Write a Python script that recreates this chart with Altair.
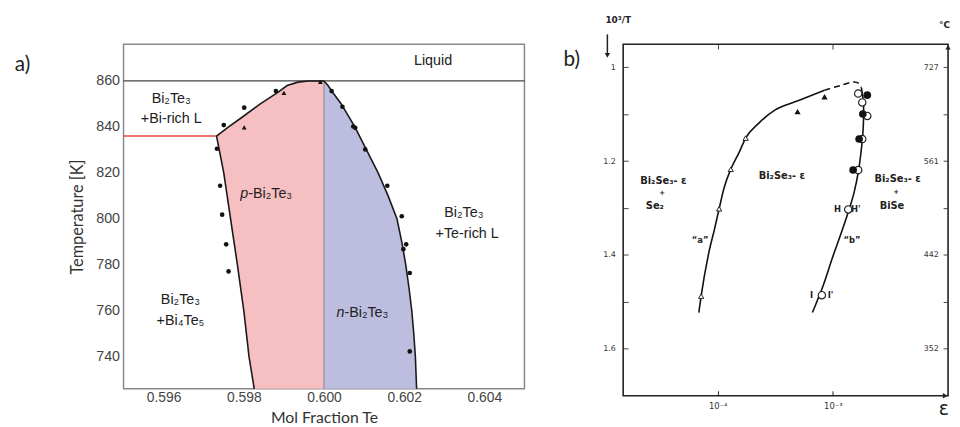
import altair as alt
import pandas as pd

# ---------------- Panel a data ----------------
a_left_T = [726, 740, 760, 780, 800, 820, 836, 840, 844, 850, 855, 858, 859.5, 860]
a_left_x = [0.59826, 0.59813, 0.59800, 0.59784, 0.59767, 0.59750, 0.59732, 0.59762,
            0.59794, 0.59841, 0.59885, 0.59908, 0.59935, 0.59960]
a_right_T = [860, 858, 855, 850, 845, 840, 830, 820, 810, 800, 790, 780, 770, 760, 750, 740, 726]
a_right_x = [0.60000, 0.60010, 0.60022, 0.60043, 0.60060, 0.60077, 0.60106, 0.60135, 0.60160,
             0.60182, 0.60194, 0.60204, 0.60212, 0.60219, 0.60224, 0.60228, 0.60231]
a_stoich = 0.600
a_liquidus_T = 860
a_peritectic_T = 836
a_peritectic_x = 0.59732

a_dot_x = [0.59733, 0.59741, 0.59746, 0.59756, 0.59762, 0.59750, 0.59801, 0.59880,
           0.60019, 0.60046, 0.60073, 0.60078, 0.60103, 0.60158, 0.60194, 0.60205,
           0.60198, 0.60214, 0.60214]
a_dot_T = [830.5, 814.4, 801.8, 788.9, 777.1, 840.8, 848.4, 855.6, 855.6, 848.8, 840.2,
           839.6, 830.2, 814.4, 801.1, 788.9, 786.8, 776.4, 742.3]
a_tri_x = [0.59801, 0.59900, 0.59991]
a_tri_T = [839.8, 854.8, 859.6]

a_xticks = [0.596, 0.598, 0.600, 0.602, 0.604]
a_yticks = [740, 760, 780, 800, 820, 840, 860]

a_lbl_text = ["Liquid", "Bi₂Te₃", "+Bi-rich L", "Bi₂Te₃", "+Bi₄Te₅", "Bi₂Te₃", "+Te-rich L"]
a_lbl_x = [0.60272, 0.59619, 0.59619, 0.59642, 0.59642, 0.60349, 0.60357]
a_lbl_T = [868.6, 852.1, 843.5, 764.7, 755.4, 802.6, 793.4]

a_phase_ital = ["p", "n"]
a_phase_rest = ["-Bi₂Te₃", "-Bi₂Te₃"]
a_phase_x = [0.59811, 0.60051]
a_phase_T = [810.8, 759.0]

# ---------------- Panel b data ----------------
b_a_eps = [6.87e-5, 7.19e-5, 8.48e-5, 9.35e-5, 1.03e-4, 1.14e-4, 1.30e-4, 1.53e-4,
           1.75e-4, 2.28e-4, 3.16e-4, 4.69e-4, 6.10e-4, 8.47e-4]
b_a_T = [1.5227, 1.4878, 1.3895, 1.347, 1.3017, 1.2562, 1.2175, 1.1825, 1.151, 1.119,
         1.091, 1.0737, 1.063, 1.049]
b_dash_eps = [8.47e-4, 1.18e-3, 1.53e-3, 1.69e-3, 1.77e-3]
b_dash_T = [1.049, 1.0386, 1.0316, 1.035, 1.044]
b_b_eps = [1.77e-3, 1.84e-3, 1.85e-3, 1.82e-3, 1.76e-3, 1.67e-3, 1.53e-3, 1.39e-3,
           1.18e-3, 1.0e-3, 8.2e-4, 6.65e-4]
b_b_T = [1.044, 1.0737, 1.1018, 1.144, 1.179, 1.221, 1.2667, 1.3017, 1.354, 1.4035,
         1.4667, 1.5227]

b_otri_eps = [7.19e-5, 1.03e-4, 1.30e-4, 1.75e-4]
b_otri_T = [1.4878, 1.3017, 1.2175, 1.151]
b_ftri_eps = [4.94e-4, 8.47e-4]
b_ftri_T = [1.0947, 1.063]
b_ocirc_eps = [1.66e-3, 1.80e-3, 1.99e-3, 1.80e-3, 1.66e-3, 1.36e-3, 8.03e-4]
b_ocirc_T = [1.056, 1.075, 1.1038, 1.153, 1.219, 1.303, 1.4857]
b_fcirc_eps = [1.99e-3, 1.82e-3, 1.69e-3, 1.50e-3]
b_fcirc_T = [1.0596, 1.0996, 1.153, 1.219]

b_yticks = [1.0, 1.1, 1.2, 1.3, 1.4, 1.5, 1.6]
b_xticks = [1e-4, 1e-3]
b_xtick_labels = ["10⁻⁴", "10⁻³"]
b_c_vals = [1.0, 1.2, 1.4, 1.6]
b_c_labels = ["727", "561", "442", "352"]

b_lbl_text = ["Bi₂Se₃- ε", "Se₂", "Bi₂Se₃- ε", "Bi₂Se₃- ε", "BiSe"]
b_lbl_eps = [3.38e-5, 2.85e-5, 3.61e-4, 3.65e-3, 3.26e-3]
b_lbl_T = [1.2420, 1.2950, 1.2316, 1.2385, 1.2950]

b_plus_eps = [3.30e-5, 3.55e-3]
b_plus_T = [1.2690, 1.2667]

b_small_text = ["H", "H'", "I", "I'", "“a”", "“b”"]
b_small_eps = [1.10e-3, 1.585e-3, 6.52e-4, 9.55e-4, 7.05e-5, 1.47e-3]
b_small_T = [1.303, 1.303, 1.4863, 1.4863, 1.368, 1.368]

# ---------------- Panel a ----------------
XA = alt.Scale(domain=[0.595, 0.605], nice=False, zero=False)
YA = alt.Scale(domain=[726, 876], nice=False, zero=False)

FONT = "Liberation Sans"
TFONT = "Lato"

df_left = pd.DataFrame({"T": a_left_T, "x": a_left_x, "xc": a_stoich})
df_right = pd.DataFrame({"T": a_right_T, "x": a_right_x, "xc": a_stoich}).sort_values("T")

pink = alt.Chart(df_left).mark_area(orient="horizontal", color="#F6BFC2", opacity=1).encode(
    y=alt.Y("T:Q", scale=YA, axis=None),
    x=alt.X("x:Q", scale=XA, axis=None),
    x2=alt.X2("xc:Q"),
)
blue = alt.Chart(df_right).mark_area(orient="horizontal", color="#BDBDDF", opacity=1).encode(
    y=alt.Y("T:Q", scale=YA, axis=None),
    x=alt.X("xc:Q", scale=XA, axis=None),
    x2=alt.X2("x:Q"),
)

df_vline = pd.DataFrame({"x": [a_stoich], "T1": [min(a_left_T)], "T2": [a_liquidus_T]})
vline = alt.Chart(df_vline).mark_rule(color="#8E8E9E", strokeWidth=1.2).encode(
    x=alt.X("x:Q", scale=XA, axis=None),
    y=alt.Y("T1:Q", scale=YA, axis=None),
    y2="T2:Q",
)

df_hline = pd.DataFrame({"x1": [0.595], "x2": [0.605], "T": [a_liquidus_T]})
hline = alt.Chart(df_hline).mark_rule(color="#444444", strokeWidth=1.3).encode(
    x=alt.X("x1:Q", scale=XA, axis=None),
    x2="x2:Q",
    y=alt.Y("T:Q", scale=YA, axis=None),
)

df_red = pd.DataFrame({"x1": [0.595], "x2": [a_peritectic_x], "T": [a_peritectic_T]})
redline = alt.Chart(df_red).mark_rule(color="#E8453C", strokeWidth=1.5).encode(
    x=alt.X("x1:Q", scale=XA, axis=None),
    x2="x2:Q",
    y=alt.Y("T:Q", scale=YA, axis=None),
)

path_x = a_left_x + a_right_x
path_T = a_left_T + a_right_T
df_path = pd.DataFrame({"x": path_x, "T": path_T, "i": range(len(path_x))})
boundary = alt.Chart(df_path).mark_line(color="#1a1a1a", strokeWidth=1.6).encode(
    x=alt.X("x:Q", scale=XA,
            axis=alt.Axis(values=a_xticks, format=".3f", ticks=False, domain=False, grid=False,
                          labelPadding=2, labelFontSize=14, labelFont=FONT, labelColor="#444",
                          title="Mol Fraction Te", titleFont=TFONT, titleFontSize=16,
                          titleFontWeight="normal", titleColor="#333", titlePadding=5)),
    y=alt.Y("T:Q", scale=YA,
            axis=alt.Axis(values=a_yticks, format="d", ticks=False, domain=False, grid=False,
                          labelPadding=4, labelFontSize=14.5, labelFont=FONT, labelColor="#444",
                          title="Temperature [K]", titleFont=TFONT, titleFontSize=16.5,
                          titleFontWeight="normal", titleColor="#333", titlePadding=10)),
    order="i:Q",
)

df_dots = pd.DataFrame({"x": a_dot_x, "T": a_dot_T})
dots = alt.Chart(df_dots).mark_point(shape="circle", filled=True, color="#111", size=22, opacity=1).encode(
    x=alt.X("x:Q", scale=XA, axis=None), y=alt.Y("T:Q", scale=YA, axis=None))
df_tris = pd.DataFrame({"x": a_tri_x, "T": a_tri_T})
tris = alt.Chart(df_tris).mark_point(shape="triangle-up", filled=True, color="#111", size=24, opacity=1).encode(
    x=alt.X("x:Q", scale=XA, axis=None), y=alt.Y("T:Q", scale=YA, axis=None))

df_lbl = pd.DataFrame({"x": a_lbl_x, "T": a_lbl_T, "t": a_lbl_text})
labels_a = alt.Chart(df_lbl).mark_text(font=FONT, fontSize=14.5, color="#222", align="center",
                                       baseline="middle").encode(
    x=alt.X("x:Q", scale=XA, axis=None), y=alt.Y("T:Q", scale=YA, axis=None), text="t:N")

df_ph = pd.DataFrame({"x": a_phase_x, "T": a_phase_T, "p": a_phase_ital, "r": a_phase_rest})
ph_ital = alt.Chart(df_ph).mark_text(font=FONT, fontSize=14.5, fontStyle="italic", color="#222",
                                     align="right", baseline="middle").encode(
    x=alt.X("x:Q", scale=XA, axis=None), y=alt.Y("T:Q", scale=YA, axis=None), text="p:N")
ph_rest = alt.Chart(df_ph).mark_text(font=FONT, fontSize=14.5, color="#222",
                                     align="left", baseline="middle").encode(
    x=alt.X("x:Q", scale=XA, axis=None), y=alt.Y("T:Q", scale=YA, axis=None), text="r:N")

df_atag = pd.DataFrame({"x": [0.592482], "T": [867.0], "t": ["a)"]})
atag = alt.Chart(df_atag).mark_text(font=TFONT, fontSize=21, color="#222", align="center",
                                    baseline="middle").encode(
    x=alt.X("x:Q", scale=XA, axis=None), y=alt.Y("T:Q", scale=YA, axis=None), text="t:N")

panel_a = alt.layer(pink, blue, vline, hline, redline, boundary, dots, tris, labels_a,
                    ph_ital, ph_rest, atag).resolve_axis(
    x="independent", y="independent").properties(
    width=406, height=349, view=alt.ViewBackground(stroke="#888888", strokeWidth=1.5))

# ---------------- Panel b ----------------
XB = alt.Scale(type="log", domain=[1.514e-5, 1e-2], nice=False)
YB = alt.Scale(domain=[0.951, 1.70], nice=False, zero=False, reverse=True)
BFONT = "DejaVu Sans"

def bx(field, axis=None):
    return alt.X(field, scale=XB, axis=axis)

def by(field, axis=None):
    return alt.Y(field, scale=YB, axis=axis)

df_ca = pd.DataFrame({"e": b_a_eps, "T": b_a_T, "i": range(len(b_a_eps))})
line_a = alt.Chart(df_ca).mark_line(color="#111", strokeWidth=1.6, interpolate="monotone").encode(
    x=bx("e:Q", alt.Axis(values=b_xticks, offset=-5, tickSize=5, tickColor="#222", domain=False,
                         grid=False, labelPadding=6, labelFont=BFONT, labelFontSize=8.5,
                         labelColor="#333",
                         labelExpr="datum.value < 3e-4 ? '%s' : '%s'" % (b_xtick_labels[0], b_xtick_labels[1]),
                         title=None)),
    y=by("T:Q", alt.Axis(values=b_yticks, offset=-5, tickSize=5, tickColor="#444", domain=False,
                         grid=False, labelPadding=8, labelFont=BFONT, labelFontSize=8,
                         labelColor="#333", format=".1~f",
                         labelExpr="(round(datum.value*10) % 2 == 0) ? datum.label : ''",
                         title=None)),
    order="i:Q",
)

df_cd = pd.DataFrame({"e": b_dash_eps, "T": b_dash_T, "i": range(len(b_dash_eps))})
line_d = alt.Chart(df_cd).mark_line(color="#111", strokeWidth=1.6, strokeDash=[6, 4],
                                    interpolate="catmull-rom").encode(
    x=bx("e:Q"), y=by("T:Q"), order="i:Q")

df_cb = pd.DataFrame({"e": b_b_eps, "T": b_b_T, "i": range(len(b_b_eps))})
line_b = alt.Chart(df_cb).mark_line(color="#111", strokeWidth=1.6, interpolate="catmull-rom").encode(
    x=bx("e:Q"), y=by("T:Q"), order="i:Q")

c_expr = " : ".join("abs(datum.value-%s)<0.01 ? '%s'" % (v, l) for v, l in zip(b_c_vals, b_c_labels)) + " : ''"

df_ot = pd.DataFrame({"e": b_otri_eps, "T": b_otri_T})
otri = alt.Chart(df_ot).mark_point(shape="triangle-up", filled=True, fill="white", stroke="#222",
                                   strokeWidth=1, size=28, opacity=1).encode(
    x=bx("e:Q", alt.Axis(values=b_xticks, orient="top", offset=-5, tickSize=5, tickColor="#444",
                         domain=False, grid=False, labels=False, title=None)),
    y=by("T:Q", alt.Axis(values=b_yticks, orient="right", offset=-5, tickSize=5, tickColor="#444",
                         domain=False, grid=False, labelAlign="right", labelPadding=-10,
                         labelFont=BFONT, labelFontSize=8, labelColor="#333",
                         labelExpr=c_expr, title=None)),
)

df_ft = pd.DataFrame({"e": b_ftri_eps, "T": b_ftri_T})
ftri = alt.Chart(df_ft).mark_point(shape="triangle-up", filled=True, color="#111", size=40,
                                   opacity=1).encode(x=bx("e:Q"), y=by("T:Q"))
df_oc = pd.DataFrame({"e": b_ocirc_eps, "T": b_ocirc_T})
ocirc = alt.Chart(df_oc).mark_point(shape="circle", filled=True, fill="white", stroke="#222",
                                    strokeWidth=1.2, size=55, opacity=1).encode(x=bx("e:Q"), y=by("T:Q"))
df_fc = pd.DataFrame({"e": b_fcirc_eps, "T": b_fcirc_T})
fcirc = alt.Chart(df_fc).mark_point(shape="circle", filled=True, color="#111", size=60,
                                    opacity=1).encode(x=bx("e:Q"), y=by("T:Q"))

df_bl = pd.DataFrame({"e": b_lbl_eps, "T": b_lbl_T, "t": b_lbl_text})
labels_b = alt.Chart(df_bl).mark_text(font=BFONT, fontSize=10, fontWeight="bold", color="#222",
                                      align="center", baseline="middle").encode(
    x=bx("e:Q"), y=by("T:Q"), text="t:N")

df_plus = pd.DataFrame({"e": b_plus_eps, "T": b_plus_T, "t": ["+", "+"]})
plus_b = alt.Chart(df_plus).mark_text(font=BFONT, fontSize=7, fontWeight="bold", color="#222",
                                      align="center", baseline="middle").encode(
    x=bx("e:Q"), y=by("T:Q"), text="t:N")

df_bs = pd.DataFrame({"e": b_small_eps, "T": b_small_T, "t": b_small_text})
small_b = alt.Chart(df_bs).mark_text(font=BFONT, fontSize=8.5, fontWeight="bold", color="#222",
                                     align="center", baseline="middle").encode(
    x=bx("e:Q"), y=by("T:Q"), text="t:N")

df_deco = pd.DataFrame({"e": [1.37e-5, 9.30e-3, 9.2e-3, 5.43e-6],
                        "T": [0.900, 0.9095, 1.728, 0.9853],
                        "t": ["10³/T", "°C", "ε", "b)"]})
deco_small = alt.Chart(df_deco.iloc[:2]).mark_text(font=BFONT, fontSize=9, fontWeight="bold",
                                                   color="#222", align="center", baseline="middle").encode(
    x=bx("e:Q"), y=by("T:Q"), text="t:N")
deco_eps = alt.Chart(df_deco.iloc[2:3]).mark_text(font="DejaVu Sans", fontSize=19, color="#222",
                                                  align="center", baseline="middle").encode(
    x=bx("e:Q"), y=by("T:Q"), text="t:N")
deco_b = alt.Chart(df_deco.iloc[3:4]).mark_text(font=TFONT, fontSize=21, color="#222",
                                                align="center", baseline="middle").encode(
    x=bx("e:Q"), y=by("T:Q"), text="t:N")

df_arrow = pd.DataFrame({"e": [1.104e-5], "T1": [0.930], "T2": [0.9727]})
arrow_shaft = alt.Chart(df_arrow).mark_rule(color="#222", strokeWidth=1.5).encode(
    x=bx("e:Q"), y=by("T1:Q"), y2="T2:Q")
df_heads = pd.DataFrame({"e": [1.104e-5, 9.45e-3, 1e-2], "T": [0.9748, 1.70, 0.9575],
                         "sh": ["triangle-down", "triangle-right", "triangle-up"]})
heads = alt.Chart(df_heads).mark_point(filled=True, color="#222", size=30, opacity=1).encode(
    x=bx("e:Q"), y=by("T:Q"),
    shape=alt.Shape("sh:N", scale=alt.Scale(domain=["triangle-down", "triangle-right", "triangle-up"],
                                            range=["triangle-down", "triangle-right", "triangle-up"]),
                    legend=None))

panel_b = alt.layer(line_a, otri, line_d, line_b, ftri, ocirc, fcirc, labels_b, plus_b, small_b,
                    deco_small, deco_eps, deco_b, arrow_shaft, heads).resolve_axis(
    x="independent", y="independent").properties(
    width=329, height=356, view=alt.ViewBackground(stroke="#222222", strokeWidth=1.6))

chart = alt.hconcat(panel_a, panel_b, spacing=100, bounds="flush").properties(
    padding={"left": 6, "top": 4, "right": 0, "bottom": 0}
).configure(background="white")

chart.save("out.html", embed_options={"renderer": "svg", "actions": False})
